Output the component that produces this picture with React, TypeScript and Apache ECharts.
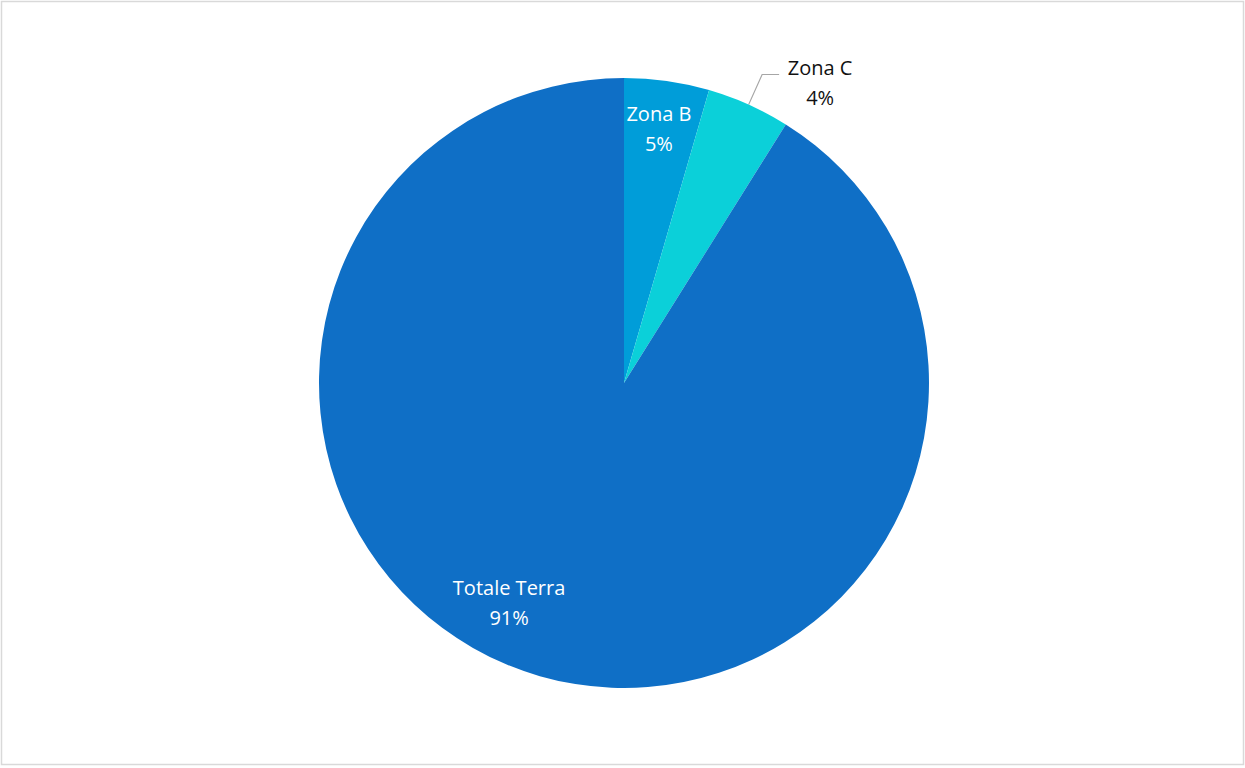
import React, { useEffect, useRef } from 'react';
import * as echarts from 'echarts';

const categories = ['Zona B', 'Zona C', 'Totale Terra'];
const values = [4.5, 4.4, 91.1];
const colors = ['#009DD9', '#0BD0D9', '#0F6FC6'];
const labelColors = ['#ffffff', '#111111', '#ffffff'];
const labelPositions = ['inside', 'outside', 'inside'];

export default function App() {
  const ref = useRef<HTMLDivElement>(null);
  useEffect(() => {
    const chart = echarts.init(ref.current!, null, { renderer: 'svg' });
    const total = values.reduce((a, b) => a + b, 0);
    const font = "'Open Sans', 'Noto Sans', sans-serif";
    chart.setOption({
      animation: false,
      backgroundColor: '#ffffff',
      graphic: [
        {
          type: 'rect',
          silent: true,
          shape: { x: 1.5, y: 1.5, width: 1242, height: 763 },
          style: { fill: 'none', stroke: '#D9D9D9', lineWidth: 1.5 },
        },
      ],
      series: [
        {
          type: 'pie',
          center: [624, 383],
          radius: 305,
          startAngle: 90,
          clockwise: true,
          avoidLabelOverlap: false,
          data: categories.map((name, i) => ({
            name,
            value: values[i],
            itemStyle: { color: colors[i] },
            label: { position: labelPositions[i], color: labelColors[i] },
            labelLine: { show: labelPositions[i] === 'outside' },
          })),
          label: {
            formatter: (p: any) =>
              `{t|${p.name}}\n{t|${Math.round((p.value / total) * 100)}%}`,
            fontFamily: font,
            fontSize: 20,
            lineHeight: 30,
            distanceToLabelLine: 6,
            rich: {
              t: { width: 66, align: 'center', fontFamily: font, fontSize: 20, lineHeight: 30 },
            },
          },
          labelLine: {
            length: 33,
            length2: 17,
            lineStyle: { color: '#A6A6A6', width: 1.2 },
          },
          labelLayout: (p: any) => {
            if (p.dataIndex === 0) return { dx: 13, dy: -101 };
            if (p.dataIndex === 2) return { dx: -72, dy: 70 };
            if (p.dataIndex === 1) return { dx: 2, dy: 8 };
            return {};
          },
        },
      ],
    });
    return () => chart.dispose();
  }, []);
  return (
    <div
      ref={ref}
      style={{ position: 'absolute', left: 0, top: 0, width: 1245, height: 768 }}
    />
  );
}
